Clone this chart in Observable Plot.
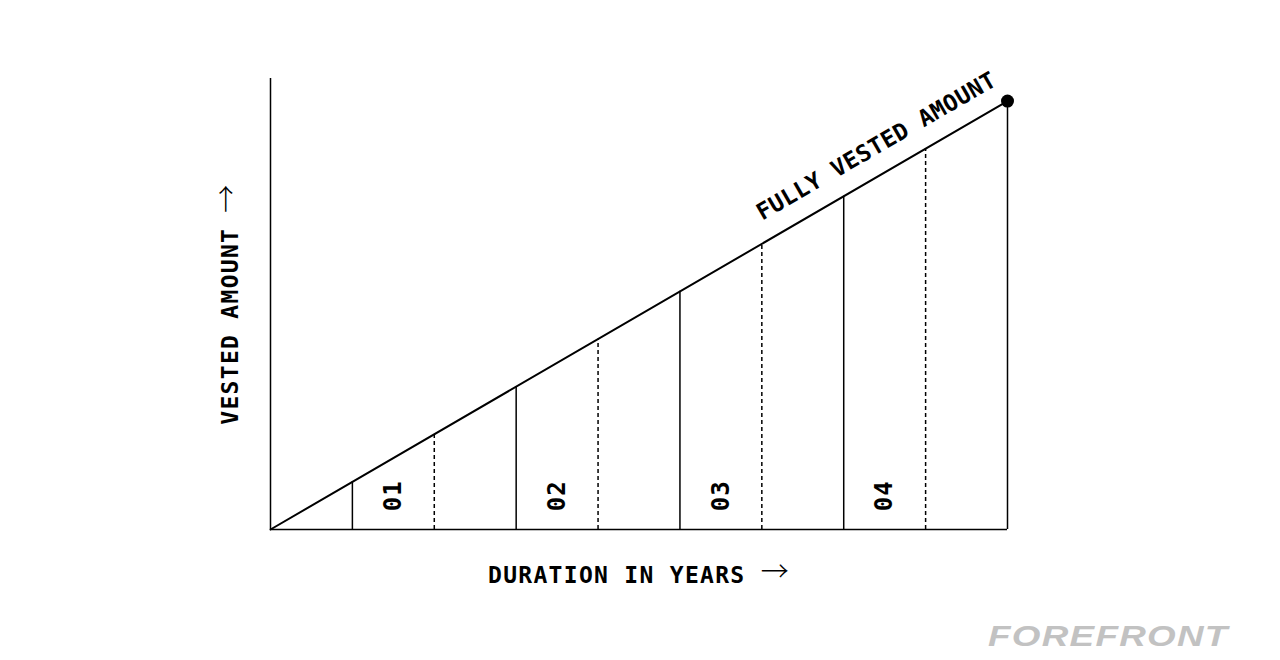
<!DOCTYPE html>
<html>
<head>
<meta charset="utf-8">
<script src="https://cdn.jsdelivr.net/npm/d3@7"></script>
<script src="https://cdn.jsdelivr.net/npm/@observablehq/plot@0.6"></script>
<style>
  html, body { margin: 0; padding: 0; background: #fff; }
  #wrap { position: relative; width: 1280px; height: 660px; overflow: hidden; }
  #logo {
    position: absolute; left: 988px; top: 622px;
    font-family: "Liberation Sans", Arial, sans-serif; font-weight: 700; font-style: italic;
    font-size: 29px; color: #c2c2c2; letter-spacing: 1px;
    transform-origin: left top; transform: scaleX(1.27);
    line-height: 1; white-space: nowrap;
  }
</style>
</head>
<body>
<div id="wrap"><div id="chart"></div><div id="logo">FOREFRONT</div></div>
<script>
// Vesting schedule (x in years, y in % of fully vested amount)
const vestX = [0, 4.5];
const vestY = [0, 95];
const solidX = [0.5, 1.5, 2.5, 3.5, 4.5];
const solidTop = [10.6, 31.7, 52.8, 73.9, 95];
const dashX = [1, 2, 3, 4];
const dashTop = [21.1, 42.2, 63.3, 84.4];
const yearLabels = ["01", "02", "03", "04"];
const yearLabelX = [0.75, 1.75, 2.75, 3.75];
const yearLabelY = [7.5, 7.5, 7.5, 7.5];
const lineLabel = "FULLY VESTED AMOUNT";
const lineLabelX = [3.7];
const lineLabelY = [78.1];
const xLabel = "DURATION IN YEARS →";
const yLabel = "VESTED AMOUNT →";

const line = vestX.map((x, i) => ({x, y: vestY[i]}));
const solids = solidX.map((x, i) => ({x, top: solidTop[i]}));
const dashes = dashX.map((x, i) => ({x, top: dashTop[i]}));
const labels = yearLabels.map((t, i) => ({t, x: yearLabelX[i], y: yearLabelY[i]}));

const font = "'DejaVu Sans Mono', monospace";

const chart = Plot.plot({
  width: 1280,
  height: 660,
  marginLeft: 270,
  marginRight: 273,
  marginTop: 78,
  marginBottom: 131,
  x: {domain: [0, 4.5], axis: null},
  y: {domain: [0, 100], axis: null},
  style: {fontFamily: font, background: "#fff", color: "#000"},
  marks: [
    Plot.ruleY([0], {stroke: "#000", strokeWidth: 1.5}),
    Plot.ruleX([0], {stroke: "#000", strokeWidth: 1.5}),
    Plot.ruleX(solids, {x: "x", y1: 0, y2: "top", stroke: "#000", strokeWidth: 1.5}),
    Plot.ruleX(dashes, {x: "x", y1: 0, y2: "top", stroke: "#000", strokeWidth: 1.5, strokeDasharray: "4,3"}),
    Plot.line(line, {x: "x", y: "y", stroke: "#000", strokeWidth: 2}),
    Plot.dot([line[1]], {x: "x", y: "y", r: 6.5, fill: "#000", stroke: "none"}),
    Plot.text(labels, {x: "x", y: "y", text: "t", rotate: -90, fontSize: 24, fontWeight: "bold", fill: "#000", textAnchor: "middle", lineAnchor: "middle", className: "yr"}),
    Plot.text([lineLabel], {x: lineLabelX, y: lineLabelY, text: d => d, rotate: -30, dy: -31, fontSize: 23, fontWeight: "bold", fill: "#000", textAnchor: "middle", lineAnchor: "middle", className: "fv"}),
    Plot.text([xLabel], {frameAnchor: "bottom", text: d => d, dy: 46, fontSize: 23, fontWeight: "bold", fill: "#000", textAnchor: "middle", lineAnchor: "middle", className: "ax"}),
    Plot.text([yLabel], {frameAnchor: "left", text: d => d, dx: -40, rotate: -90, fontSize: 23, fontWeight: "bold", fill: "#000", textAnchor: "middle", lineAnchor: "middle", className: "ax"})
  ]
});
chart.querySelectorAll(".ax text").forEach(t => t.style.letterSpacing = "1.3px");
chart.querySelectorAll(".yr text").forEach(t => t.style.letterSpacing = "1px");
chart.querySelectorAll(".fv text").forEach(t => { t.style.letterSpacing = "0.5px"; });
// render the arrow glyph in a thin face with a larger head, like the reference
chart.querySelectorAll(".ax text").forEach(t => {
  const s = t.textContent;
  if (!s.includes("→")) return;
  const before = s.slice(0, s.indexOf("→"));
  t.textContent = before;
  const ts = document.createElementNS("http://www.w3.org/2000/svg", "tspan");
  ts.textContent = "→";
  ts.setAttribute("font-family", "'Noto Sans CJK SC', sans-serif");
  ts.setAttribute("font-weight", "300");
  ts.setAttribute("font-size", "28");
  ts.setAttribute("dy", "-1");
  t.appendChild(ts);
});
document.getElementById("chart").appendChild(chart);
</script>
</body>
</html>
